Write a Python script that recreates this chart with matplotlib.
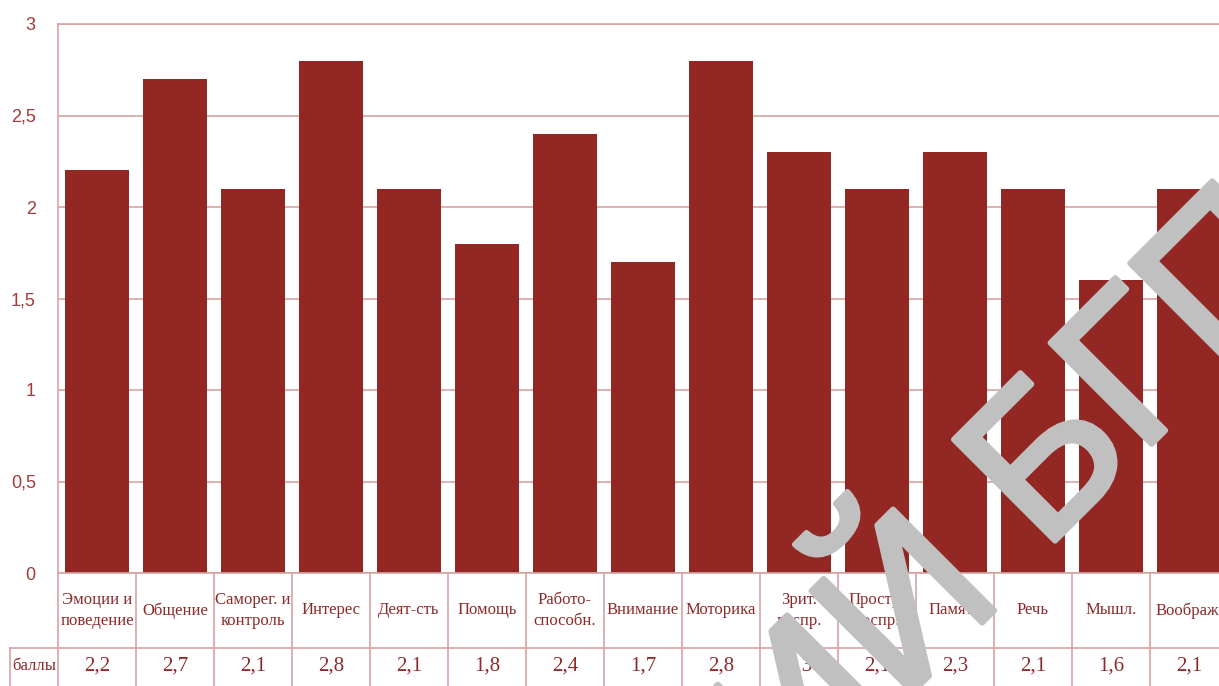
import matplotlib.pyplot as plt
import matplotlib.patheffects as pe
from matplotlib.transforms import blended_transform_factory
from matplotlib.lines import Line2D

categories = ['Эмоции и\nповедение', 'Общение', 'Саморег. и\nконтроль', 'Интерес',
              'Деят-сть', 'Помощь', 'Работо-\nспособн.', 'Внимание', 'Моторика',
              'Зрит.\nвоспр.', 'Простр.\nвоспр.', 'Память', 'Речь', 'Мышл.', 'Воображ.']
values = [2.2, 2.7, 2.1, 2.8, 2.1, 1.8, 2.4, 1.7, 2.8, 2.3, 2.1, 2.3, 2.1, 1.6, 2.1]
row_name = 'баллы'
yticks = [0, 0.5, 1, 1.5, 2, 2.5, 3]

W, H = 1219, 686
bar_color = '#922724'
grid_color = '#d6a3a3'
text_color = '#8e2a2a'

fig = plt.figure(figsize=(W / 100, H / 100), dpi=100)
ax = fig.add_axes([58 / W, 113 / H, (1228 - 58) / W, 549 / H])

x = list(range(len(values)))
ax.bar(x, values, width=0.81, color=bar_color, zorder=2)
ax.set_xlim(-0.5, len(values) - 0.5)
ax.set_ylim(0, 3)
ax.set_yticks(yticks)
ax.set_yticklabels([str(v).replace('.', ',') for v in yticks],
                   family='Liberation Sans', fontsize=13, color='#a23b3b')
ax.set_xticks([])
ax.tick_params(axis='y', length=0, pad=16)
ax.yaxis.grid(True, color=grid_color, lw=1.2)
ax.set_axisbelow(True)
for s in ['right', 'bottom']:
    ax.spines[s].set_visible(False)
for s in ['left', 'top']:
    ax.spines[s].set_color(grid_color)
    ax.spines[s].set_linewidth(1.2)

# data table under the bars
tr = blended_transform_factory(ax.transData, ax.transAxes)
row1 = -(648 - 573) / 549
row_end = -0.22
left_cell = (10 - 58) / 78 - 0.5
for i in range(len(values) + 1):
    ax.add_line(Line2D([i - 0.5, i - 0.5], [0, row_end], transform=tr,
                       color=grid_color, lw=1.2, clip_on=False))
ax.add_line(Line2D([-0.5, len(values)], [0, 0], transform=tr,
                   color=grid_color, lw=1.2, clip_on=False))
ax.add_line(Line2D([left_cell, len(values)], [row1, row1], transform=tr,
                   color=grid_color, lw=1.2, clip_on=False))
ax.add_line(Line2D([left_cell, left_cell], [row1, row_end], transform=tr,
                   color=grid_color, lw=1.2, clip_on=False))

for i, (c, v) in enumerate(zip(categories, values)):
    ax.text(i, row1 / 2, c, transform=tr, ha='center', va='center',
            family='Liberation Serif', fontsize=12, color=text_color,
            linespacing=1.35, clip_on=False)
    ax.text(i, -(666 - 573) / 549, str(v).replace('.', ','), transform=tr,
            ha='center', va='center', family='Liberation Serif', fontsize=15,
            color=text_color, clip_on=False)
ax.text(left_cell + 0.03, -(666 - 573) / 549, row_name, transform=tr,
        ha='left', va='center', family='Liberation Serif', fontsize=12,
        color=text_color, clip_on=False)

# watermark
wm = dict(family='Liberation Sans', fontsize=150, color='#c0c0c0', rotation=45,
          rotation_mode='anchor', va='baseline', zorder=10,
          path_effects=[pe.withStroke(linewidth=4, foreground='#c0c0c0')])
fig.text(1043 / W, 1 - 553 / H, 'БГПУ', ha='left', **wm)
fig.text(1007 / W, 1 - 598 / H, 'РЕПОЗИТОРИЙ', ha='right', **wm)

fig.savefig('out.png', dpi=100)
